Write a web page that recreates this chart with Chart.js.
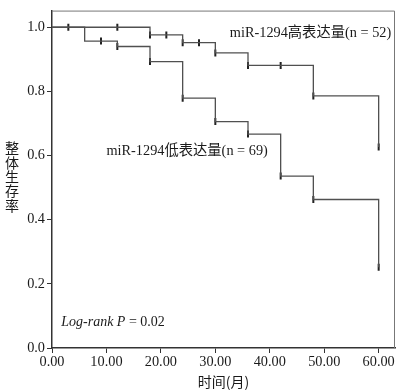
<!DOCTYPE html>
<html>
<head>
<meta charset="utf-8">
<script src="https://cdn.jsdelivr.net/npm/chart.js@4"></script>
<style>
html,body{margin:0;padding:0;background:#fff;}
#wrap{width:401px;height:390px;}
</style>
</head>
<body>
<div id="wrap"><canvas id="c" width="401" height="390"></canvas></div>
<script>
// ---- data ----
const xTicks = [0, 10, 20, 30, 40, 50, 60];
const yTicks = [0, 0.2, 0.4, 0.6, 0.8, 1.0];

// high expression group (n = 52): step times and survival after each step
const highTimes = [0, 18, 24, 30, 36, 48, 60];
const highSurv  = [1.0, 0.976, 0.952, 0.920, 0.881, 0.786, 0.627];
const highCensorT = [3, 12, 18, 21, 24, 27, 30, 36, 42, 48, 60];
const highCensorS = [1.0, 1.0, 0.976, 0.976, 0.952, 0.952, 0.920, 0.881, 0.881, 0.786, 0.627];

// low expression group (n = 69)
const lowTimes = [0, 6, 12, 18, 24, 30, 36, 42, 48, 60];
const lowSurv  = [1.0, 0.957, 0.940, 0.893, 0.779, 0.706, 0.667, 0.536, 0.463, 0.252];
const lowCensorT = [9, 12, 18, 24, 30, 36, 42, 48, 60];
const lowCensorS = [0.957, 0.940, 0.893, 0.779, 0.706, 0.667, 0.536, 0.463, 0.252];

const labelHigh = 'miR-1294高表达量(n = 52)';
const labelLow = 'miR-1294低表达量(n = 69)';
const yTitleChars = ['整', '体', '生', '存', '率'];
const xTitle = '时间(月)';

const FONT = '"Liberation Serif", "Times New Roman", "Noto Sans CJK SC", serif';
const LINE = '#505050';
const MARK = '#222';

const pts = (xs, ys) => xs.map((x, i) => ({x, y: ys[i]}));

const annot = {
  id: 'annot',
  afterDraw(chart) {
    const {ctx, chartArea: a, scales: {x, y}} = chart;
    ctx.save();
    // frame (top/right border)
    ctx.strokeStyle = '#777';
    ctx.lineWidth = 1;
    ctx.beginPath();
    ctx.moveTo(a.left, a.top + 0.5);
    ctx.lineTo(a.right - 0.5, a.top + 0.5);
    ctx.lineTo(a.right - 0.5, a.bottom);
    ctx.stroke();
    ctx.fillStyle = '#1a1a1a';
    ctx.textBaseline = 'middle';
    ctx.font = '14.3px ' + FONT;
    ctx.textAlign = 'right';
    ctx.fillText(labelHigh, x.getPixelForValue(62.3), y.getPixelForValue(0.982));
    ctx.textAlign = 'left';
    ctx.fillText(labelLow, x.getPixelForValue(10.0), y.getPixelForValue(0.612));
    ctx.font = 'italic 14px ' + FONT;
    const t1 = 'Log-rank ';
    const t2 = 'P';
    let px = x.getPixelForValue(1.7), py = y.getPixelForValue(0.08);
    ctx.fillText(t1, px, py); px += ctx.measureText(t1).width;
    ctx.fillText(t2, px, py); px += ctx.measureText(t2).width;
    ctx.font = '14px ' + FONT;
    ctx.fillText(' = 0.02', px, py);
    // y title stacked vertically
    ctx.textAlign = 'center';
    ctx.font = '14px "Noto Sans CJK SC", sans-serif';
    yTitleChars.forEach((ch, i) => ctx.fillText(ch, 12, 148 + i * 14.3));
    ctx.restore();
  }
};

new Chart(document.getElementById('c'), {
  type: 'line',
  data: {
    datasets: [
      {data: pts(highTimes, highSurv), stepped: 'before', borderColor: LINE, borderWidth: 1.3, pointRadius: 0, fill: false},
      {data: pts(lowTimes, lowSurv), stepped: 'before', borderColor: LINE, borderWidth: 1.3, pointRadius: 0, fill: false},
      {data: pts(highCensorT, highCensorS), showLine: false, pointStyle: 'line', rotation: 90, pointRadius: 3.5, borderColor: MARK, borderWidth: 2},
      {data: pts(lowCensorT, lowCensorS), showLine: false, pointStyle: 'line', rotation: 90, pointRadius: 3.5, borderColor: MARK, borderWidth: 2}
    ]
  },
  options: {
    responsive: false,
    animation: false,
    layout: {padding: {top: 4, right: 5, left: 0, bottom: 0}},
    plugins: {legend: {display: false}, tooltip: {enabled: false}},
    scales: {
      x: {
        type: 'linear', min: 0, max: 63,
        afterBuildTicks: s => { s.ticks = xTicks.map(v => ({value: v})); },
        afterFit: s => { s.height = 42; },
        ticks: {callback: v => v.toFixed(2), color: '#1a1a1a', font: {family: FONT, size: 14.3}, padding: 1, maxRotation: 0},
        grid: {drawOnChartArea: false, drawTicks: true, tickLength: 5, color: '#333'},
        border: {display: true, color: '#333', width: 1.5},
        title: {display: true, text: xTitle, color: '#1a1a1a', font: {family: '"Noto Sans CJK SC", sans-serif', size: 14}, padding: {top: 0, bottom: 0}}
      },
      y: {
        type: 'linear', min: 0, max: 1.052,
        afterBuildTicks: s => { s.ticks = yTicks.map(v => ({value: v})); },
        afterFit: s => { s.width = 52; },
        ticks: {callback: v => v.toFixed(1), color: '#1a1a1a', font: {family: FONT, size: 14.3}, padding: 2},
        grid: {drawOnChartArea: false, drawTicks: true, tickLength: 5, color: '#333'},
        border: {display: true, color: '#333', width: 1.5}
      }
    }
  },
  plugins: [annot]
});
</script>
</body>
</html>
